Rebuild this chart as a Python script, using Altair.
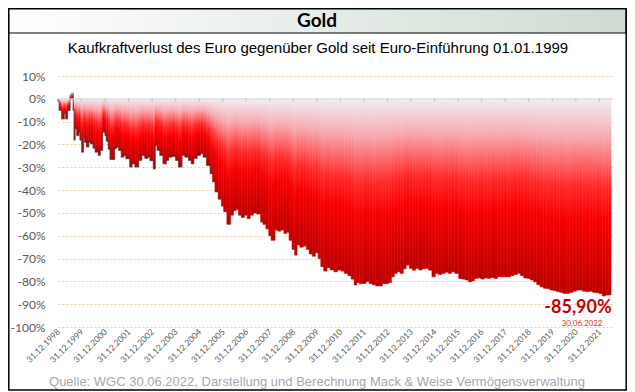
import altair as alt
import pandas as pd

# ---------------- data ----------------
DATES = [
    "1999-01-01", "1999-01-20", "1999-02-28", "1999-04-05", "1999-05-01", "1999-05-25",
    "1999-07-05", "1999-07-31", "1999-08-25", "1999-09-08", "1999-09-20", "1999-10-20",
    "1999-11-20", "1999-12-10", "2000-01-05", "2000-01-28", "2000-02-20", "2000-03-20",
    "2000-04-20", "2000-05-20", "2000-06-30", "2000-08-01", "2000-09-20", "2000-10-15",
    "2000-11-20", "2000-12-31", "2001-01-20", "2001-02-20", "2001-03-20", "2001-05-25",
    "2001-06-20", "2001-08-01", "2001-09-10", "2001-10-15", "2001-11-20", "2002-01-20",
    "2002-02-20", "2002-04-10", "2002-06-01", "2002-07-20", "2002-09-10", "2002-10-20",
    "2002-11-30", "2003-01-20", "2003-02-15", "2003-03-20", "2003-05-01", "2003-06-20",
    "2003-08-05", "2003-09-10", "2003-11-01", "2003-12-31", "2004-02-15", "2004-04-05",
    "2004-05-25", "2004-07-20", "2004-09-01", "2004-10-05", "2004-11-25", "2005-01-15",
    "2005-03-05", "2005-04-25", "2005-06-20", "2005-07-25", "2005-09-01", "2005-10-20",
    "2005-12-10", "2006-01-15", "2006-03-05", "2006-05-01", "2006-06-15", "2006-07-25",
    "2006-09-01", "2006-10-15", "2006-12-01", "2007-01-15", "2007-03-01", "2007-04-20",
    "2007-06-10", "2007-08-10", "2007-09-15", "2007-11-01", "2007-12-15", "2008-01-20",
    "2008-03-20", "2008-05-01", "2008-06-20", "2008-08-05", "2008-09-15", "2008-10-25",
    "2008-12-10", "2009-01-20", "2009-02-25", "2009-04-10", "2009-06-01", "2009-07-20",
    "2009-09-01", "2009-10-20", "2009-12-05", "2010-01-20", "2010-03-01", "2010-04-15",
    "2010-06-05", "2010-07-25", "2010-09-20", "2010-11-15", "2011-01-10", "2011-03-01",
    "2011-04-25", "2011-06-15", "2011-08-01", "2011-09-10", "2011-10-20", "2011-12-10",
    "2012-02-01", "2012-03-20", "2012-05-10", "2012-06-30", "2012-08-20", "2012-10-10",
    "2012-12-01", "2013-01-15", "2013-03-01", "2013-04-15", "2013-05-30", "2013-07-15",
    "2013-09-01", "2013-10-15", "2013-12-05", "2014-01-20", "2014-03-10", "2014-05-01",
    "2014-06-20", "2014-08-10", "2014-10-01", "2014-11-20", "2015-01-10", "2015-03-01",
    "2015-04-20", "2015-06-10", "2015-08-01", "2015-09-20", "2015-11-10", "2016-01-10",
    "2016-03-01", "2016-04-20", "2016-06-10", "2016-07-25", "2016-09-10", "2016-10-30",
    "2016-12-20", "2017-02-10", "2017-04-01", "2017-05-20", "2017-07-10", "2017-09-01",
    "2017-10-20", "2017-12-10", "2018-02-01", "2018-03-25", "2018-05-15", "2018-07-05",
    "2018-08-25", "2018-10-15", "2018-12-05", "2019-01-25", "2019-03-15", "2019-05-05",
    "2019-06-25", "2019-08-15", "2019-10-05", "2019-11-25", "2020-01-15", "2020-03-05",
    "2020-04-25", "2020-06-15", "2020-08-05", "2020-09-25", "2020-11-15", "2021-01-05",
    "2021-02-25", "2021-04-15", "2021-06-05", "2021-07-25", "2021-09-15", "2021-11-05",
    "2021-12-25", "2022-02-15", "2022-04-01", "2022-05-20", "2022-06-30",
]
VALUES = [
    0, -1, -5, -8.7, -6.4, -8.7,
    -5, 1.5, 2.3, -5, -18, -13,
    -16, -14.5, -18, -23.3, -17, -19,
    -21, -18.9, -19.6, -21.5, -23.3, -24.7,
    -22.5, -14.5, -16, -18.5, -22, -26.5,
    -21.8, -21.1, -22.5, -25.5, -24.7, -26.2,
    -29.8, -28.4, -29.8, -26.9, -24.7, -26,
    -25.5, -27, -30.6, -20.4, -22.5, -24.7,
    -28.4, -26.9, -25.5, -25.2, -26.9, -29.8,
    -24.7, -25.5, -26.9, -28.4, -26, -24.7,
    -24, -25.5, -29.1, -32.7, -36.4, -40.8,
    -44, -47, -49.5, -55, -51, -49,
    -48.5, -51, -52, -51, -52.5, -51,
    -50, -50.5, -54, -55, -57, -60,
    -62, -57.5, -58, -57.5, -59, -58.5,
    -62, -66, -68.5, -64, -65, -64.5,
    -66, -68, -69, -67.5, -70, -73.5,
    -75.5, -74, -75, -75.8, -75, -75.5,
    -76.5, -77.5, -79, -81.6, -80.5, -81,
    -80.9, -80, -81, -81.5, -82, -82,
    -81, -81, -80.5, -78, -76.5, -75.8,
    -76.5, -74.5, -72.9, -74.3, -75.1, -74.3,
    -75, -74.5, -74.3, -75.1, -78, -76.5,
    -77, -76.5, -76, -76.5, -75.8, -76.5,
    -78.7, -79, -79.4, -80.2, -79.8, -78.7,
    -78.5, -79, -78.5, -78.7, -78.3, -78.7,
    -78, -78, -78, -78, -77.5, -77,
    -76.5, -77.5, -78.5, -78.7, -79.4, -80.2,
    -81.5, -82.4, -83, -83.2, -83.8, -84,
    -84.5, -84.8, -85.3, -85.3, -84.8, -84.3,
    -83.8, -83.8, -84.3, -84.5, -84.3, -84.8,
    -85, -85.3, -86.4, -86, -85.9,
]
TICK_DATES = [f"{y}-12-31" for y in range(1998, 2022)]
Y_TICKS = [10, 0, -10, -20, -30, -40, -50, -60, -70, -80, -90, -100]
TITLE = "Gold"
SUBTITLE = "Kaufkraftverlust des Euro gegenüber Gold seit Euro-Einführung 01.01.1999"
SOURCE = "Quelle: WGC 30.06.2022, Darstellung und Berechnung Mack & Weise Vermögensverwaltung"

# ---------------- tables ----------------
df = pd.DataFrame({"date": DATES, "value": VALUES})
df["start"] = df["date"].shift(1).fillna(df["date"].iloc[0])
early = df[df["date"] < "2005-08-01"]
ticks_df = pd.DataFrame({"tick": TICK_DATES})
last = df.iloc[[-1]].copy()
last["label"] = f"{last['value'].iloc[0]:.2f}%".replace(".", ",")
d = last["date"].iloc[0]
last["datelabel"] = f"{d[8:10]}.{d[5:7]}.{d[0:4]}"
one = pd.DataFrame({"k": [0]})

X_SCALE = alt.Scale(
    type="utc",
    domain=[alt.DateTime(year=1998, month=12, date=31, utc=True),
            alt.DateTime(year=2022, month=7, date=15, utc=True)],
)
Y_SCALE = alt.Scale(domain=[-100, 10], nice=False, zero=False)

X_AXIS = alt.Axis(
    values=[alt.DateTime(year=int(t[:4]), month=12, date=31, utc=True) for t in TICK_DATES],
    labelExpr="utcFormat(datum.value, '%d.%m.%Y')",
    labelAngle=-45, labelAlign="right", labelBaseline="middle",
    labelFont="Lato", labelFontSize=8.5, labelColor="#595959",
    labelPadding=3, ticks=False, domain=False, grid=False, title=None,
    labelOverlap=False,
)
Y_AXIS = alt.Axis(
    values=Y_TICKS,
    labelExpr="(datum.value < 0 ? '-' : '') + abs(datum.value) + '%'",
    grid=True, gridDash=[2, 2], gridColor="#f6c9ad", gridWidth=1,
    domain=False, ticks=False, labelPadding=13, labelOverlap=False,
    labelFont="Lato", labelFontSize=12, labelColor="#595959", title=None,
)


def X(field):
    return alt.X(field, scale=X_SCALE, axis=X_AXIS, title=None)


def Y(field):
    return alt.Y(field, scale=Y_SCALE, axis=Y_AXIS, title=None)


Y_ZERO = alt.YDatum(0, scale=Y_SCALE, axis=Y_AXIS)

bar_grad = alt.Gradient(
    gradient="linear",
    stops=[
        alt.GradientStop(offset=0, color="#efeef5"),
        alt.GradientStop(offset=0.2, color="#f7a9b0"),
        alt.GradientStop(offset=0.45, color="#ff2a2a"),
        alt.GradientStop(offset=0.62, color="#f80000"),
        alt.GradientStop(offset=1, color="#bd0000"),
    ],
    x1=0, x2=0, y1=0, y2=1,
)

bars = alt.Chart(df).mark_bar(fill=bar_grad, stroke=bar_grad, strokeWidth=0.6).encode(
    x=X("start:T"),
    x2="date:T",
    y=Y("value:Q"),
    y2=alt.datum(0),
)

shadow = alt.Chart(early).mark_line(
    interpolate="step-before", color="#2a2a2a", strokeWidth=1.5, opacity=0.45
).encode(x=X("date:T"), y=Y("value:Q"))

zero_rule = alt.Chart(one).mark_rule(color="#d9d9d9", strokeWidth=1).encode(
    x=alt.value(0), x2=alt.value(554), y=Y_ZERO,
)

tick_marks = alt.Chart(ticks_df).mark_rule(color="#bdbdbd", strokeWidth=1).encode(
    x=X("tick:T"),
    y=Y_ZERO,
    y2=alt.datum(-1.3),
)

annot = alt.Chart(last).mark_text(
    font="Lato", fontWeight="bold", fontSize=18, color="#c00000",
    align="center", baseline="middle", dx=-33, dy=13,
).encode(x=X("date:T"), y=Y("value:Q"), text="label:N")
annot_date = alt.Chart(last).mark_text(
    font="Lato", fontSize=8, color="#d83030",
    align="center", baseline="middle", dx=-29, dy=29,
).encode(x=X("date:T"), y=Y("value:Q"), text="datelabel:N")

banner_grad = alt.Gradient(
    gradient="linear",
    stops=[alt.GradientStop(offset=0, color="#ffffff"),
           alt.GradientStop(offset=1, color="#cfdbd2")],
    x1=0, x2=1, y1=0, y2=0,
)
banner = alt.Chart(one).mark_rect(fill=banner_grad, stroke="black", strokeWidth=1).encode(
    x=alt.value(-49.5), x2=alt.value(568), y=alt.value(-67.5), y2=alt.value(-43),
)
title_text = alt.Chart(one).mark_text(
    text=TITLE, font="Lato", fontWeight="bold", fontSize=19, color="#000000",
    align="center", baseline="middle",
).encode(x=alt.value(259), y=alt.value(-55))
subtitle_text = alt.Chart(one).mark_text(
    text=SUBTITLE, font="Liberation Sans", fontSize=15, color="#000000",
    align="center", baseline="middle",
).encode(x=alt.value(260), y=alt.value(-28))
source_text = alt.Chart(one).mark_text(
    text=SOURCE, font="Liberation Sans", fontSize=13, color="#a3a8ad",
    align="center", baseline="middle",
).encode(x=alt.value(259), y=alt.value(306))
border = alt.Chart(one).mark_rect(fill="#ffffff", fillOpacity=0, stroke="black", strokeWidth=1.5).encode(
    x=alt.value(-49.2), x2=alt.value(568.2), y=alt.value(-67.2), y2=alt.value(314),
)

chart = alt.layer(
    banner, bars, shadow, zero_rule, tick_marks, annot, annot_date,
    title_text, subtitle_text, source_text, border,
).properties(
    width=554, height=251,
    autosize=alt.AutoSizeParams(type="none"),
    padding={"left": 50, "top": 68, "right": 15, "bottom": 65},
    background="white",
).configure_view(stroke=None)

chart.save("out.html", embed_options={"renderer": "svg", "actions": False})
